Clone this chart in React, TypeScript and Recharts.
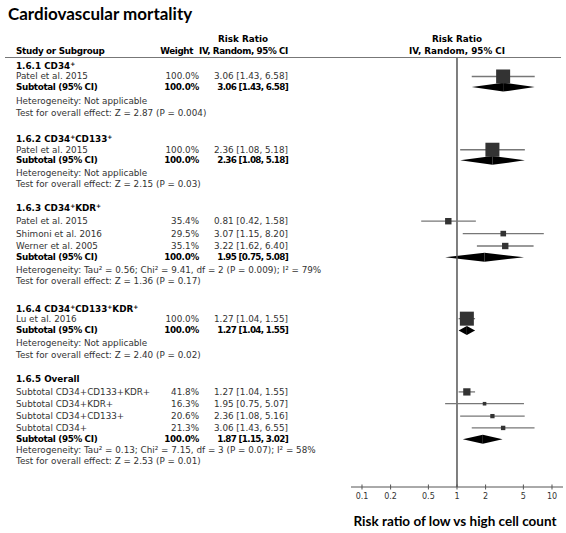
import React from 'react';
import {
  ComposedChart,
  Scatter,
  XAxis,
  YAxis,
  ErrorBar,
  ReferenceLine,
  ReferenceArea,
} from 'recharts';

// ---------- layout ----------
const W = 566;
const H = 533;
const PLOT_LEFT = 351;
const PLOT_RIGHT = 563;
const PLOT_TOP = 57;
const PLOT_BOTTOM = 487;
const Y_MIN = -0.75;
const Y_MAX = 35.65;
const X_DOMAIN: [number, number] = [0.0766, 13.06];

// ---------- data ----------
const xTicks = [0.1, 0.2, 0.5, 1, 2, 5, 10];

// section titles: [text, hasSuperscriptPlus]
const sectionTitles: { num: string; parts: [string, boolean][] }[] = [
  { num: '1.6.1', parts: [['CD34', true]] },
  { num: '1.6.2', parts: [['CD34', true], ['CD133', true]] },
  { num: '1.6.3', parts: [['CD34', true], ['KDR', true]] },
  { num: '1.6.4', parts: [['CD34', true], ['CD133', true], ['KDR', true]] },
  { num: '1.6.5', parts: [['Overall', false]] },
];
const sectionHeaderRows = [0, 6.2, 12.05, 20.6, 26.5];

const studies = [
  { name: 'Patel et al. 2015', w: 100.0, rr: 3.06, lo: 1.43, hi: 6.58, row: 0.9 },
  { name: 'Patel et al. 2015', w: 100.0, rr: 2.36, lo: 1.08, hi: 5.18, row: 7.1 },
  { name: 'Patel et al. 2015', w: 35.4, rr: 0.81, lo: 0.42, hi: 1.58, row: 13.15 },
  { name: 'Shimoni et al. 2016', w: 29.5, rr: 3.07, lo: 1.15, hi: 8.2, row: 14.2 },
  { name: 'Werner et al. 2005', w: 35.1, rr: 3.22, lo: 1.62, hi: 6.4, row: 15.25 },
  { name: 'Lu et al. 2016', w: 100.0, rr: 1.27, lo: 1.04, hi: 1.55, row: 21.4 },
  { name: 'Subtotal CD34+CD133+KDR+', w: 41.8, rr: 1.27, lo: 1.04, hi: 1.55, row: 27.6 },
  { name: 'Subtotal CD34+KDR+', w: 16.3, rr: 1.95, lo: 0.75, hi: 5.07, row: 28.6 },
  { name: 'Subtotal CD34+CD133+', w: 20.6, rr: 2.36, lo: 1.08, hi: 5.16, row: 29.65 },
  { name: 'Subtotal CD34+', w: 21.3, rr: 3.06, lo: 1.43, hi: 6.55, row: 30.65 },
];

const subtotals = [
  { w: 100.0, rr: 3.06, lo: 1.43, hi: 6.58, row: 1.8 },
  { w: 100.0, rr: 2.36, lo: 1.08, hi: 5.18, row: 8.0 },
  { w: 100.0, rr: 1.95, lo: 0.75, hi: 5.08, row: 16.2 },
  { w: 100.0, rr: 1.27, lo: 1.04, hi: 1.55, row: 22.4 },
  { w: 100.0, rr: 1.87, lo: 1.15, hi: 3.02, row: 31.6 },
];

const heterogeneity = [
  'Heterogeneity: Not applicable',
  'Heterogeneity: Not applicable',
  'Heterogeneity: Tau² = 0.56; Chi² = 9.41, df = 2 (P = 0.009); I² = 79%',
  'Heterogeneity: Not applicable',
  'Heterogeneity: Tau² = 0.13; Chi² = 7.15, df = 3 (P = 0.07); I² = 58%',
];
const heterogeneityRows = [3.0, 9.1, 17.3, 23.5, 32.5];

const overallTests = [
  'Test for overall effect: Z = 2.87 (P = 0.004)',
  'Test for overall effect: Z = 2.15 (P = 0.03)',
  'Test for overall effect: Z = 1.36 (P = 0.17)',
  'Test for overall effect: Z = 2.40 (P = 0.02)',
  'Test for overall effect: Z = 2.53 (P = 0.01)',
];
const testRows = [4.0, 10.0, 18.2, 24.5, 33.45];

// ---------- helpers ----------
const ypx = (v: number) =>
  PLOT_TOP + ((v - Y_MIN) * (PLOT_BOTTOM - PLOT_TOP)) / (Y_MAX - Y_MIN);
const ciText = (s: { rr: number; lo: number; hi: number }) =>
  `${s.rr.toFixed(2)} [${s.lo.toFixed(2)}, ${s.hi.toFixed(2)}]`;
const wText = (w: number) => `${w.toFixed(1)}%`;

const TABLE_FONT = 'DejaVu Sans';
const FS = 8.8;
const COL_NAME = 16;
const COL_WEIGHT = 199;
const COL_CI = 288;

const scatterData = studies.map((s) => ({
  rr: s.rr,
  row: s.row,
  w: s.w,
  err: [s.rr - s.lo, s.hi - s.rr],
}));

const Square = (props: any) => {
  const { cx, cy, payload } = props;
  if (cx == null || cy == null) return <g />;
  const s = 14 * Math.pow(payload.w / 100, 0.75);
  return <rect x={cx - s / 2} y={cy - s / 2} width={s} height={s} fill="#333" />;
};

const LeftHalf = (props: any) => {
  const { x, y, width, height } = props;
  return (
    <path d={`M${x},${y + height / 2} L${x + width},${y} L${x + width},${y + height} Z`} fill="#000" />
  );
};
const RightHalf = (props: any) => {
  const { x, y, width, height } = props;
  return <path d={`M${x},${y} L${x + width},${y + height / 2} L${x},${y + height} Z`} fill="#000" />;
};

const fmtTick = (v: number) => String(v);

const AxisTick = (props: any) => {
  const { x, y, payload } = props;
  return (
    <g>
      <line x1={x} x2={x} y1={y - 2.5} y2={y + 2.5} stroke="#555" strokeWidth={1} />
      <text x={x} y={y + 12} textAnchor="middle" fontSize={8} fill="#333" fontFamily={TABLE_FONT}>
        {fmtTick(payload.value)}
      </text>
    </g>
  );
};

const SectionTitle = ({ idx }: { idx: number }) => {
  const t = sectionTitles[idx];
  const y = ypx(sectionHeaderRows[idx]);
  const nodes: React.ReactNode[] = [];
  t.parts.forEach(([txt, sup], i) => {
    nodes.push(
      <tspan key={'t' + i} dy={i > 0 && t.parts[i - 1][1] ? 3 : 0}>
        {txt}
      </tspan>
    );
    if (sup) {
      nodes.push(
        <tspan key={'s' + i} dy={-3} fontSize={6}>
          +
        </tspan>
      );
    }
  });
  return (
    <text x={COL_NAME} y={y} dominantBaseline="central" fontSize={FS} fontWeight="bold" fill="#000" fontFamily={TABLE_FONT}>
      <tspan>{t.num} </tspan>
      {nodes}
    </text>
  );
};

const Overlay = () => (
  <svg
    width={W}
    height={H}
    style={{ position: 'absolute', left: 0, top: 0, pointerEvents: 'none' }}
  >
    <text x={8} y={20} fontSize={17} fontWeight="bold" fontFamily="Lato" fill="#000">
      Cardiovascular mortality
    </text>
    <g fontFamily={TABLE_FONT} fontSize={FS} fontWeight="bold" fill="#000">
      <text x={243} y={42} textAnchor="middle">Risk Ratio</text>
      <text x={COL_NAME} y={54} letterSpacing={-0.3}>Study or Subgroup</text>
      <text x={193} y={54} textAnchor="end" letterSpacing={-0.4}>Weight</text>
      <text x={COL_CI} y={54} textAnchor="end" letterSpacing={-0.4}>IV, Random, 95% CI</text>
      <text x={457} y={42} textAnchor="middle">Risk Ratio</text>
      <text x={457} y={54} textAnchor="middle">IV, Random, 95% CI</text>
    </g>
    <line x1={5} x2={561} y1={57.5} y2={57.5} stroke="#777" strokeWidth={1} />
    {sectionTitles.map((_, i) => (
      <SectionTitle key={i} idx={i} />
    ))}
    <g fontFamily={TABLE_FONT} fontSize={FS} fill="#333" dominantBaseline="central">
      {studies.map((s, i) => (
        <g key={i}>
          <text x={COL_NAME} y={ypx(s.row)}>{s.name}</text>
          <text x={COL_WEIGHT} y={ypx(s.row)} textAnchor="end">{wText(s.w)}</text>
          <text x={COL_CI} y={ypx(s.row)} textAnchor="end">{ciText(s)}</text>
        </g>
      ))}
      {heterogeneity.map((h, i) => (
        <text key={'h' + i} x={COL_NAME} y={ypx(heterogeneityRows[i])}>{h}</text>
      ))}
      {overallTests.map((h, i) => (
        <text key={'t' + i} x={COL_NAME} y={ypx(testRows[i])}>{h}</text>
      ))}
    </g>
    <g fontFamily={TABLE_FONT} fontSize={FS} fontWeight="bold" fill="#000" dominantBaseline="central">
      {subtotals.map((s, i) => (
        <g key={i}>
          <text x={COL_NAME} y={ypx(s.row)} letterSpacing={-0.35}>Subtotal (95% CI)</text>
          <text x={COL_WEIGHT} y={ypx(s.row)} textAnchor="end" letterSpacing={-0.3}>{wText(s.w)}</text>
          <text x={COL_CI} y={ypx(s.row)} textAnchor="end" letterSpacing={-0.7}>{ciText(s)}</text>
        </g>
      ))}
    </g>
    <text x={455} y={526} textAnchor="middle" fontSize={13.5} fontWeight="bold" fontFamily="Lato" fill="#000">
      Risk ratio of low vs high cell count
    </text>
  </svg>
);

export default function App() {
  return (
    <div style={{ position: 'absolute', left: 0, top: 0, width: W, height: H, background: '#fff' }}>
      <ComposedChart
        width={W}
        height={H}
        margin={{ top: PLOT_TOP, right: W - PLOT_RIGHT, bottom: 0, left: PLOT_LEFT }}
      >
        <XAxis
          type="number"
          dataKey="rr"
          scale="log"
          domain={X_DOMAIN}
          allowDataOverflow
          ticks={xTicks}
          interval={0}
          height={H - PLOT_BOTTOM}
          tickSize={0}
          tickMargin={0}
          tickLine={false}
          tick={<AxisTick />}
          axisLine={{ stroke: '#555', strokeWidth: 1 }}
        />
        <YAxis type="number" dataKey="row" domain={[Y_MIN, Y_MAX]} reversed hide allowDataOverflow />
        <ReferenceLine x={1} stroke="#555" strokeWidth={1.5} ifOverflow="visible" />
        {subtotals.map((s, i) => (
          <ReferenceArea
            key={'l' + i}
            x1={s.lo}
            x2={s.rr}
            y1={s.row - 0.38}
            y2={s.row + 0.38}
            shape={LeftHalf}
            ifOverflow="visible"
          />
        ))}
        {subtotals.map((s, i) => (
          <ReferenceArea
            key={'r' + i}
            x1={s.rr}
            x2={s.hi}
            y1={s.row - 0.38}
            y2={s.row + 0.38}
            shape={RightHalf}
            ifOverflow="visible"
          />
        ))}
        <Scatter data={scatterData} dataKey="row" shape={Square} isAnimationActive={false}>
          <ErrorBar dataKey="err" direction="x" width={0} stroke="#777" strokeWidth={1.3} />
        </Scatter>
      </ComposedChart>
      <Overlay />
    </div>
  );
}
